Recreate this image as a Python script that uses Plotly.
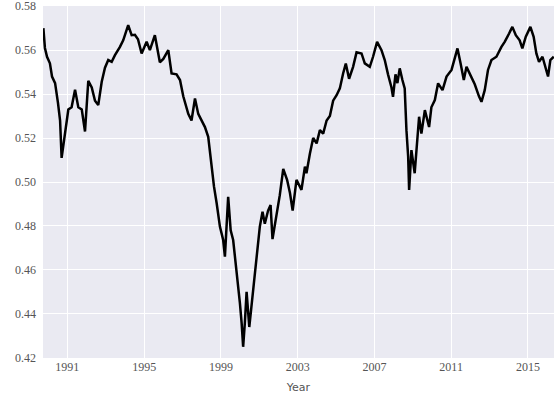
import plotly.graph_objects as go

# values (decimal year, ratio)
years = [
    1989.75, 1989.83, 1989.94, 1990.09, 1990.20, 1990.36, 1990.51, 1990.62, 1990.70, 1990.88,
    1991.05, 1991.22, 1991.40, 1991.57, 1991.75, 1991.92, 1992.09, 1992.27, 1992.44, 1992.61,
    1992.79, 1992.96, 1993.13, 1993.31, 1993.48, 1993.74, 1993.91, 1994.17, 1994.35, 1994.52,
    1994.68, 1994.87, 1995.13, 1995.30, 1995.56, 1995.82, 1996.00, 1996.26, 1996.43, 1996.69,
    1996.87, 1997.04, 1997.30, 1997.47, 1997.65, 1997.82, 1998.00, 1998.17, 1998.34, 1998.43,
    1998.55, 1998.64, 1998.78, 1998.95, 1999.12, 1999.21, 1999.38, 1999.51, 1999.64, 1999.82,
    1999.99, 2000.08, 2000.16, 2000.25, 2000.34, 2000.48, 2000.65, 2000.77, 2000.94, 2001.03,
    2001.17, 2001.29, 2001.46, 2001.59, 2001.69, 2001.87, 2002.07, 2002.25, 2002.45, 2002.60,
    2002.74, 2002.94, 2003.20, 2003.38, 2003.46, 2003.64, 2003.81, 2003.99, 2004.16, 2004.33,
    2004.51, 2004.68, 2004.85, 2005.03, 2005.20, 2005.37, 2005.51, 2005.68, 2005.89, 2006.07,
    2006.33, 2006.50, 2006.76, 2006.93, 2007.14, 2007.37, 2007.54, 2007.71, 2007.89, 2007.97,
    2008.10, 2008.20, 2008.32, 2008.46, 2008.58, 2008.67, 2008.76, 2008.81, 2008.93, 2009.10,
    2009.22, 2009.33, 2009.45, 2009.63, 2009.85, 2009.97, 2010.15, 2010.32, 2010.55, 2010.76,
    2011.02, 2011.19, 2011.33, 2011.49, 2011.66, 2011.80, 2011.97, 2012.23, 2012.45, 2012.58,
    2012.75, 2012.92, 2013.10, 2013.36, 2013.62, 2013.79, 2014.02, 2014.19, 2014.37, 2014.57,
    2014.71, 2014.89, 2015.13, 2015.30, 2015.44, 2015.58, 2015.76, 2015.93, 2016.05, 2016.17,
    2016.35,
]
values = [
    0.570, 0.561, 0.557, 0.554, 0.548, 0.545, 0.536, 0.528, 0.511, 0.522,
    0.533, 0.534, 0.542, 0.534, 0.533, 0.523, 0.546, 0.543, 0.537, 0.535,
    0.5456, 0.552, 0.5555, 0.5547, 0.5577, 0.5615, 0.5645, 0.5714, 0.5668, 0.567,
    0.565, 0.5585, 0.5638, 0.560, 0.5668, 0.5545, 0.556, 0.560, 0.5494, 0.549,
    0.5464, 0.539, 0.531, 0.528, 0.538, 0.531, 0.528, 0.525, 0.5206, 0.513,
    0.504, 0.498, 0.4903, 0.4797, 0.4736, 0.466, 0.4933, 0.478, 0.4736, 0.460,
    0.445, 0.436, 0.425, 0.436, 0.450, 0.434, 0.448, 0.457, 0.472, 0.4797,
    0.4865, 0.481, 0.487, 0.4895, 0.474, 0.483, 0.494, 0.506, 0.501, 0.495,
    0.487, 0.501, 0.4964, 0.507, 0.504, 0.513, 0.520, 0.5176, 0.5236, 0.522,
    0.528, 0.530, 0.537, 0.5395, 0.5426, 0.5494, 0.5539, 0.547, 0.5524, 0.559,
    0.5585, 0.554, 0.5524, 0.557, 0.5638, 0.560, 0.5555, 0.549, 0.543, 0.5388,
    0.549, 0.545, 0.5517, 0.5464, 0.5426, 0.5236, 0.5115, 0.4964, 0.5145, 0.504,
    0.519, 0.5297, 0.522, 0.5327, 0.525, 0.534, 0.5373, 0.5449, 0.5418, 0.548,
    0.551, 0.5562, 0.5608, 0.554, 0.5464, 0.5524, 0.549, 0.5445, 0.539, 0.5365,
    0.5418, 0.551, 0.5555, 0.557, 0.5615, 0.5638, 0.5676, 0.5706, 0.5668, 0.5645,
    0.5608, 0.5661, 0.5706, 0.5661, 0.5585, 0.5547, 0.557, 0.5517, 0.548, 0.5555,
    0.557,
]
x_ticks = [1991, 1995, 1999, 2003, 2007, 2011, 2015]
y_ticks = [0.42, 0.44, 0.46, 0.48, 0.50, 0.52, 0.54, 0.56, 0.58]

fig = go.Figure()
fig.add_trace(go.Scatter(x=years, y=values, mode='lines', line=dict(color='black', width=2.5), showlegend=False))

tick_font = dict(family='Liberation Serif, Times New Roman, serif', size=12, color='#555555')
fig.update_layout(
    width=554, height=400,
    paper_bgcolor='white', plot_bgcolor='#EAEAF2',
    margin=dict(l=43, r=0, t=6, b=42),
    xaxis=dict(
        range=[1989.73, 2016.36], tickvals=x_ticks, ticktext=[str(t) for t in x_ticks],
        showgrid=True, gridcolor='white', gridwidth=1.3, zeroline=False, showline=False,
        ticks='', tickfont=tick_font, automargin=False, ticklabeloverflow='allow',
        title=dict(text='Year', font=dict(family='DejaVu Sans, sans-serif', size=11, color='#555555'), standoff=10),
    ),
    yaxis=dict(
        range=[0.4199, 0.5801], tickvals=y_ticks, ticktext=[f'{t:.2f}' for t in y_ticks],
        showgrid=True, gridcolor='white', gridwidth=1.3, zeroline=False, showline=False,
        ticks='', tickfont=tick_font, ticklabelstandoff=6, automargin=False, ticklabeloverflow='allow',
    ),
)

# the page's default body margin would shift the 554x400 figure out of the window
fig.write_html("out.html", config={'displayModeBar': False},
               post_script="document.body.style.margin='0';")
